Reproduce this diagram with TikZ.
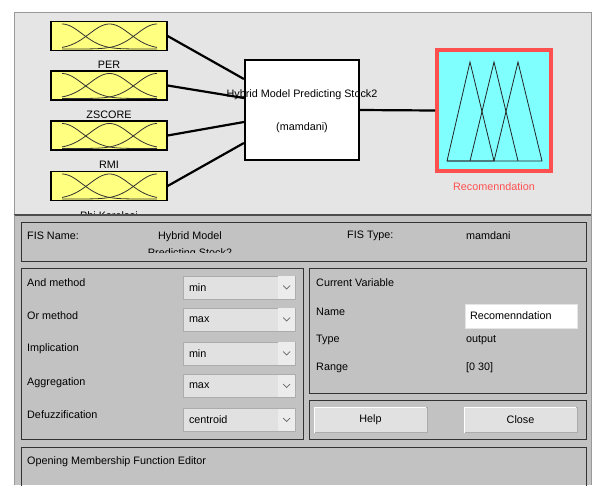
\documentclass[tikz,border=0pt]{standalone}
\usepackage{fontspec}
\setmainfont{Liberation Sans}
\usetikzlibrary{positioning}
\definecolor{topgray}{RGB}{229,229,229}
\definecolor{lowgray}{RGB}{194,194,194}
\definecolor{mfyellow}{RGB}{255,255,128}
\definecolor{mfcyan}{RGB}{128,255,255}
\definecolor{selred}{RGB}{255,80,80}
\definecolor{ctrlgray}{RGB}{225,225,225}
\definecolor{arrowgray}{RGB}{236,236,236}
\definecolor{edgegray}{RGB}{172,172,172}

\begin{document}
\begin{tikzpicture}[x=1pt, y=-1pt, font=\fontsize{10.8}{12}\selectfont,
            inbox/.style={rectangle, draw, line width=1.2pt, fill=mfyellow, minimum width=116pt, minimum height=29pt, inner sep=0pt},
            varlabel/.style={inner sep=0pt},
            conn/.style={line width=2.2pt},
            frame/.style={draw=black!80, line width=1pt},
            txt/.style={anchor=west, inner sep=0pt},
            dropbox/.style={rectangle, draw=edgegray, fill=ctrlgray, minimum width=112pt, minimum height=23pt, text width=100pt, align=left, inner xsep=6pt, inner ysep=0pt},
            pushbtn/.style={rectangle, draw=edgegray, fill=ctrlgray, minimum width=113pt, minimum height=25pt, inner sep=0pt}]

        \useasboundingbox (0,0) rectangle (596,485);

        % window, upper part
        \fill[white] (0,0) rectangle (596,485);
        \filldraw[fill=topgray, draw=black!40] (14,12) rectangle (591,215);

        % inputs
        \node[inbox] (per) at (109,36) {};
        \node[inbox] (zscore) at (109,85.5) {};
        \node[inbox] (rmi) at (109,135.5) {};
        \node[inbox] (phik) at (109,186) {};
        \foreach \cy in {36,85.5,135.5,186}{
            \foreach \cx in {62,109.5,157}
                \draw[line width=0.8pt, black!80, domain=62:157, samples=60, smooth]
                    plot (\x, {\cy+13-25*exp(-((\x-\cx)^2)/816)});
        }
        \node[varlabel, below=10pt of per] {PER};
        \node[varlabel, below=10pt of zscore] {ZSCORE};
        \node[varlabel, below=10pt of rmi] {RMI};
        \node[varlabel, below=10pt of phik] (philbl) {Phi Korelasi};

        % fis block
        \node[rectangle, draw, line width=2.2pt, fill=white, minimum width=114pt, minimum height=100pt] (fis) at (302,110) {};
        \node[inner sep=0pt] (fistitle) at (302,95) {Hybrid Model Predicting Stock2};
        \node[inner sep=0pt] (fiskind) at (302,128) {(mamdani)};

        \draw[conn] (per.east) -- ([yshift=31pt]fis.west);
        \draw[conn] (zscore.east) -- ([yshift=12pt]fis.west);
        \draw[conn] (rmi.east) -- ([yshift=-12pt]fis.west);
        \draw[conn] (phik.east) -- ([yshift=-33pt]fis.west);

        % output
        \node[rectangle, draw=selred, line width=4pt, fill=mfcyan, minimum width=114pt, minimum height=121pt] (rec) at (494,110.5) {};
        \draw[conn] (fis.east) -- (rec.west);
        \draw[black!85, line width=0.8pt] (447,161) -- (470,62) -- (494,161) -- cycle;
        \draw[black!85, line width=0.8pt] (470,161) -- (494,62) -- (518,161);
        \draw[black!85, line width=0.8pt] (494,161) -- (518,62) -- (542,161) -- (447,161);
        \node[varlabel, text=selred, below=9pt of rec] (reclbl) {Recomenndation};

        % window, lower part
        \fill[lowgray] (14,215) rectangle (591,485);
        \draw[black!70, line width=1.2pt] (14,215) -- (591,215);
        \draw[black!40] (14,215) -- (14,485) (591,215) -- (591,485);

        % FIS name row
        \draw[frame] (21,222) rectangle (586,261);
        \node[txt] (fisname) at (27,236) {FIS Name:};
        \begin{scope}
            \clip (22,223) rectangle (585,252.5);
            \node[inner sep=0pt, align=center] (fisnameval) at (190,245) {Hybrid Model\\[4.5pt]Predicting Stock2};
        \end{scope}
        \node[txt] (fistype) at (347,236) {FIS Type:};
        \node[txt] (fistypeval) at (466,236) {mamdani};

        % methods
        \draw[frame] (21,268) rectangle (303,439);
        \node[txt] (andlbl) at (27,283) {And method};
        \node[txt] (orlbl) at (27,316) {Or method};
        \node[txt] (implbl) at (27,349) {Implication};
        \node[txt] (agglbl) at (27,383) {Aggregation};
        \node[txt] (defuzlbl) at (27,415) {Defuzzification};
        \node[dropbox] (andm) at (239,287.5) {min};
        \node[dropbox] (orm) at (239,319.5) {max};
        \node[dropbox] (impm) at (239,353.5) {min};
        \node[dropbox] (aggm) at (239,386) {max};
        \node[dropbox] (defuzm) at (239,420) {centroid};
        \foreach \d in {andm,orm,impm,aggm,defuzm}{
            \fill[arrowgray] ([xshift=-17pt,yshift=-0.5pt]\d.north east) rectangle ([xshift=-0.5pt,yshift=0.5pt]\d.south east);
            \draw[black!60, line width=0.7pt] ([xshift=-12pt,yshift=2pt]\d.east) -- ([xshift=-8.5pt,yshift=-1.5pt]\d.east) -- ([xshift=-5pt,yshift=2pt]\d.east);
        }

        % current variable
        \draw[frame] (309,268) rectangle (586,393);
        \node[txt] (cvlbl) at (316,283) {Current Variable};
        \node[txt] (namelbl) at (316,312) {Name};
        \node[txt] (typelbl) at (316,340) {Type};
        \node[txt] (rangelbl) at (316,368) {Range};
        \node[rectangle, fill=white, draw=black!10, minimum width=112pt, minimum height=24pt, text width=102pt, align=left, inner xsep=5pt, inner ysep=0pt] (nameval) at (521,316) {Recomenndation};
        \node[txt] (typeval) at (466,340) {output};
        \node[txt] (rangeval) at (466,368) {[0 30]};

        % buttons
        \draw[frame] (309,400) rectangle (586,439);
        \node[pushbtn] (help) at (370.5,419.5) {Help};
        \node[pushbtn] (close) at (520.5,419.5) {Close};
        \draw[white, line width=1pt] ([shift={(1pt,-1pt)}]help.south west) |- ([shift={(-1pt,-1pt)}]help.north east);
        \draw[white, line width=1pt] ([shift={(1pt,-1pt)}]close.south west) |- ([shift={(-1pt,-1pt)}]close.north east);

        % status line
        \draw[frame] (21,490) -- (21,447) -- (586,447) -- (586,490);
        \node[txt] (status) at (27,462) {Opening Membership Function Editor};
    \end{tikzpicture}
\end{document}
